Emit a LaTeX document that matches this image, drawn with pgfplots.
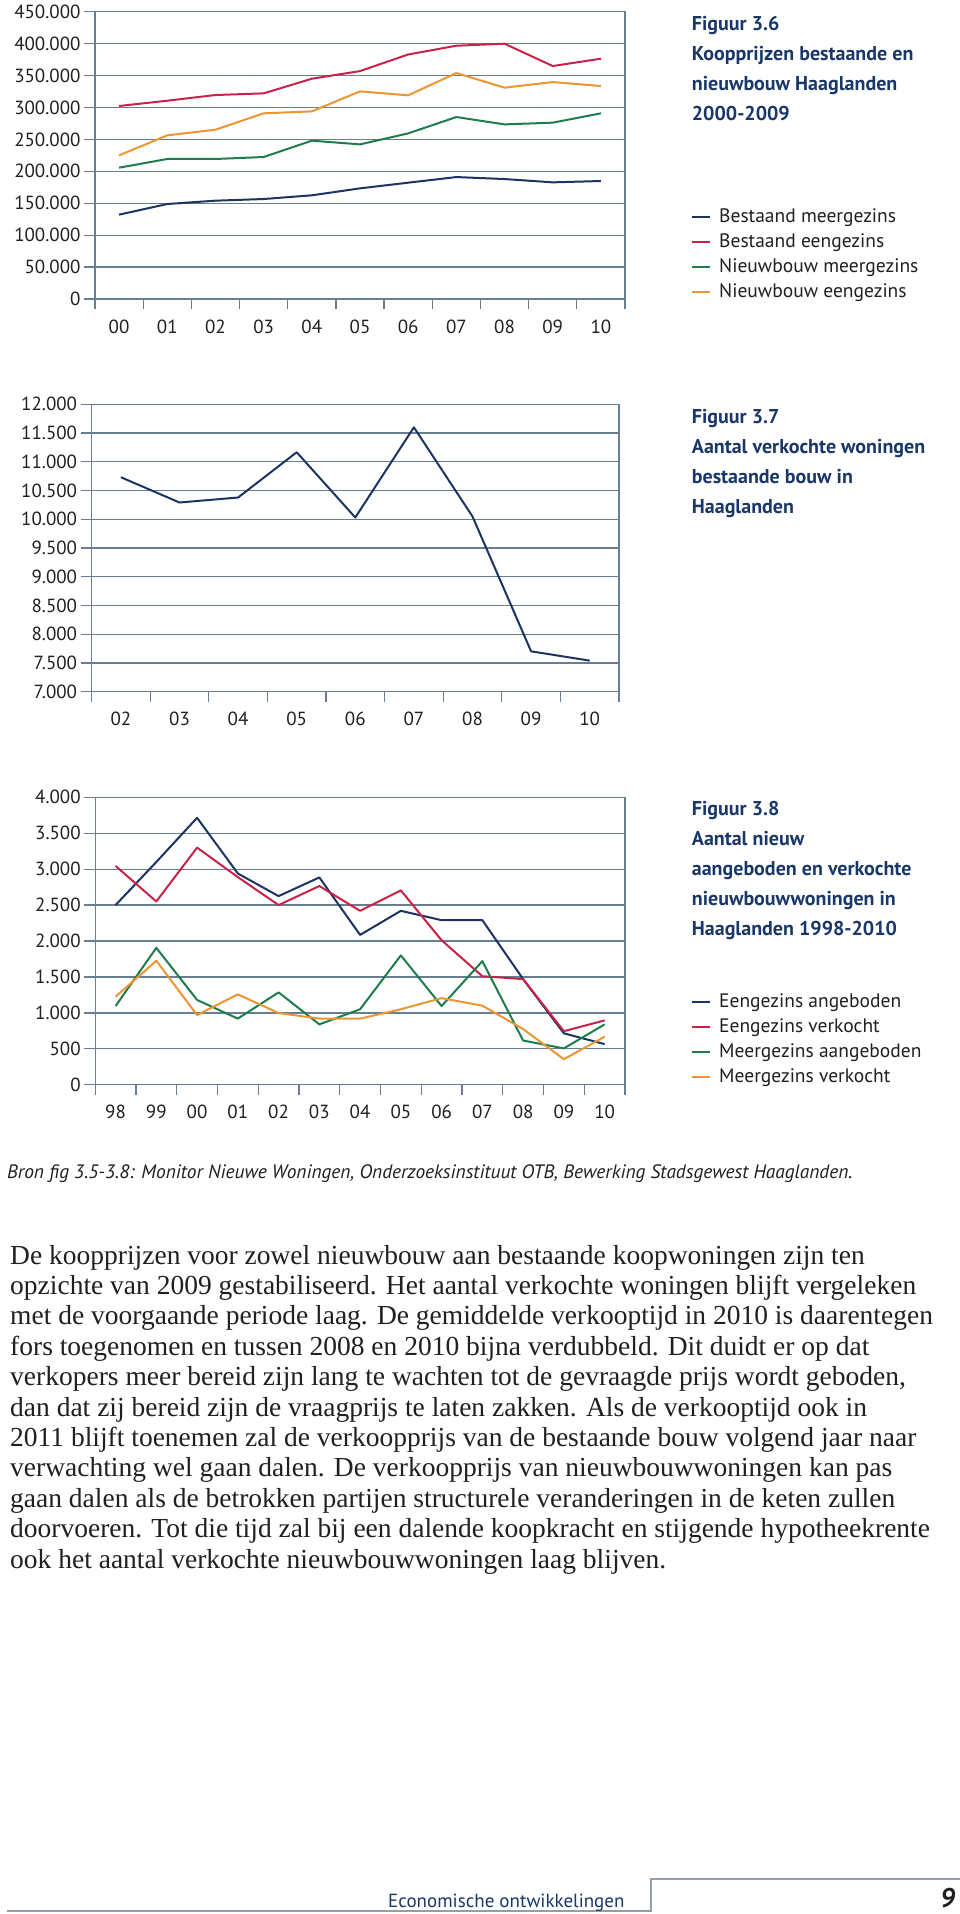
\documentclass[border=0pt]{standalone}
\usepackage{fontspec}
\usepackage{pgfplots}
\pgfplotsset{compat=1.18}
\setmainfont{PT Sans}
\newfontfamily\sansf{PT Sans}
\newfontfamily\serif{Liberation Serif}
\definecolor{navy}{RGB}{27,52,98}
\definecolor{cred}{RGB}{200,35,70}
\definecolor{cgreen}{RGB}{30,125,75}
\definecolor{corange}{RGB}{235,150,50}
\definecolor{gridc}{RGB}{105,125,148}
\definecolor{titleblue}{RGB}{25,55,105}
\definecolor{txt}{RGB}{35,31,32}
\definecolor{footgray}{RGB}{150,158,165}
\pgfplotsset{
  pagechart/.style={
    scale only axis,
    axis line style={gridc, line width=1.3pt},
    ymajorgrids,
    grid style={gridc, line width=1.3pt},
    tick style={gridc, line width=1.3pt},
    tick align=outside,
    tick pos=left,
    major tick length=11pt,
    minor tick length=10pt,
    major x tick style={draw=none},
    ticklabel style={font=\sansf\fontsize{19}{22}\selectfont, text=txt},
    xticklabel style={yshift=-6pt},
    yticklabel style={/pgf/number format/.cd, fixed, precision=0, 1000 sep={.}, assume math mode=true},
    scaled y ticks=false,
    every axis plot/.append style={line width=2pt, line join=round, mark=none},
  }
}
\begin{document}
\begin{tikzpicture}[x=1pt,y=1pt]
\fill[white] (0,0) rectangle (960,-1914);
\path[use as bounding box] (0,0) rectangle (960,-1914);

% ---------- Figure 3.6 ----------
\begin{axis}[pagechart, at={(95pt,-299pt)}, anchor=south west,
  width=530pt, height=287.3pt,
  xmin=-0.5, xmax=10.5, ymin=0, ymax=450000,
  ytick={0,50000,...,450000},
  xtick={0,...,10}, xticklabels={00,01,02,03,04,05,06,07,08,09,10},
  minor xtick={-0.5,0.5,...,10.5}]
\addplot[navy] coordinates {(0,132100)(1,148800)(2,154000)(3,156600)(4,162400)(5,173300)(6,182200)(7,191000)(8,187900)(9,182700)(10,184800)};
\addplot[cred] coordinates {(0,302300)(1,310600)(2,319500)(3,322100)(4,345000)(5,357000)(6,383000)(7,396700)(8,399900)(9,364900)(10,376400)};
\addplot[cgreen] coordinates {(0,205700)(1,219300)(2,219300)(3,222400)(4,248000)(5,242200)(6,259400)(7,285000)(8,273500)(9,276200)(10,290800)};
\addplot[corange] coordinates {(0,225000)(1,256300)(2,265200)(3,290800)(4,293900)(5,325200)(6,319000)(7,353900)(8,331000)(9,339800)(10,333600)};
\end{axis}

\begin{scope}[every node/.style={anchor=base west, inner sep=0pt, text=titleblue, font=\sansf\bfseries\fontsize{20}{24}\selectfont}]
\node at (691.7,-30) {Figuur 3.6};
\node at (691.7,-60.5) {Koopprijzen bestaande en};
\node at (691.7,-90.5) {nieuwbouw Haaglanden};
\node at (691.7,-120.5) {2000-2009};
\end{scope}
\begin{scope}[every node/.style={anchor=base west, inner sep=0pt, text=txt, font=\sansf\fontsize{19.5}{22}\selectfont}]
\draw[navy, line width=2pt] (691.7,-217.3) -- (710,-217.3);
\node at (719,-222.7) {Bestaand meergezins};
\draw[cred, line width=2pt] (691.7,-242.3) -- (710,-242.3);
\node at (719,-247.7) {Bestaand eengezins};
\draw[cgreen, line width=2pt] (691.7,-267.3) -- (710,-267.3);
\node at (719,-272.7) {Nieuwbouw meergezins};
\draw[corange, line width=2pt] (691.7,-292.3) -- (710,-292.3);
\node at (719,-297.7) {Nieuwbouw eengezins};
\end{scope}

% ---------- Figure 3.7 ----------
\begin{axis}[pagechart, at={(91.6pt,-691.6pt)}, anchor=south west,
  width=527.4pt, height=287.3pt,
  xmin=-0.5, xmax=8.5, ymin=7000, ymax=12000,
  ytick={7000,7500,...,12000},
  xtick={0,...,8}, xticklabels={02,03,04,05,06,07,08,09,10},
  minor xtick={-0.5,0.5,...,8.5}]
\addplot[navy] coordinates {(0,10731)(1,10291)(2,10378)(3,11166)(4,10030)(5,11600)(6,10048)(7,7701)(8,7539)};
\end{axis}

\begin{scope}[every node/.style={anchor=base west, inner sep=0pt, text=titleblue, font=\sansf\bfseries\fontsize{20}{24}\selectfont}]
\node at (691.7,-423) {Figuur 3.7};
\node at (691.7,-453) {Aantal verkochte woningen};
\node at (691.7,-483) {bestaande bouw in};
\node at (691.7,-513) {Haaglanden};
\end{scope}

% ---------- Figure 3.8 ----------
\begin{axis}[pagechart, at={(95.2pt,-1084.7pt)}, anchor=south west,
  width=529.8pt, height=287.4pt,
  xmin=-0.5, xmax=12.5, ymin=0, ymax=4000,
  ytick={0,500,...,4000},
  xtick={0,...,12}, xticklabels={98,99,00,01,02,03,04,05,06,07,08,09,10},
  minor xtick={-0.5,0.5,...,12.5}]
\addplot[navy] coordinates {(0,2500)(1,3100)(2,3715)(3,2940)(4,2625)(5,2885)(6,2085)(7,2420)(8,2290)(9,2290)(10,1470)(11,715)(12,565)};
\addplot[cred] coordinates {(0,3045)(1,2550)(2,3300)(3,2890)(4,2500)(5,2765)(6,2420)(7,2705)(8,2010)(9,1510)(10,1470)(11,745)(12,895)};
\addplot[cgreen] coordinates {(0,1095)(1,1905)(2,1180)(3,920)(4,1285)(5,840)(6,1050)(7,1800)(8,1095)(9,1720)(10,615)(11,505)(12,840)};
\addplot[corange] coordinates {(0,1225)(1,1725)(2,970)(3,1258)(4,998)(5,920)(6,920)(7,1050)(8,1205)(9,1100)(10,775)(11,355)(12,668)};
\end{axis}

\begin{scope}[every node/.style={anchor=base west, inner sep=0pt, text=titleblue, font=\sansf\bfseries\fontsize{20}{24}\selectfont}]
\node at (691.7,-815) {Figuur 3.8};
\node at (691.7,-845) {Aantal nieuw};
\node at (691.7,-875) {aangeboden en verkochte};
\node at (691.7,-905) {nieuwbouwwoningen in};
\node at (691.7,-935.7) {Haaglanden 1998-2010};
\end{scope}
\begin{scope}[every node/.style={anchor=base west, inner sep=0pt, text=txt, font=\sansf\fontsize{19.5}{22}\selectfont}]
\draw[navy, line width=2pt] (691.7,-1001.7) -- (710,-1001.7);
\node at (719,-1007.1) {Eengezins angeboden};
\draw[cred, line width=2pt] (691.7,-1026.7) -- (710,-1026.7);
\node at (719,-1032.1) {Eengezins verkocht};
\draw[cgreen, line width=2pt] (691.7,-1051.7) -- (710,-1051.7);
\node at (719,-1057.1) {Meergezins aangeboden};
\draw[corange, line width=2pt] (691.7,-1076.7) -- (710,-1076.7);
\node at (719,-1082.1) {Meergezins verkocht};
\end{scope}

% ---------- Source ----------
\node[anchor=base west, inner sep=0pt, text=txt, font=\sansf\itshape\fontsize{19.4}{22}\selectfont] at (7,-1178)
 {Bron fig 3.5-3.8: Monitor Nieuwe Woningen, Onderzoeksinstituut OTB, Bewerking Stadsgewest Haaglanden.};

% ---------- Body text ----------
\begin{scope}[every node/.style={anchor=base west, inner sep=0pt, text=txt, font=\serif\fontsize{27.5}{30}\selectfont}]
\node at (10,-1264) {De koopprijzen voor zowel nieuwbouw aan bestaande koopwoningen zijn ten};
\node at (10,-1294.4) {opzichte van 2009 gestabiliseerd. Het aantal verkochte woningen blijft vergeleken};
\node at (10,-1324.8) {met de voorgaande periode laag. De gemiddelde verkooptijd in 2010 is daarentegen};
\node at (10,-1355.2) {fors toegenomen en tussen 2008 en 2010 bijna verdubbeld. Dit duidt er op dat};
\node at (10,-1385.6) {verkopers meer bereid zijn lang te wachten tot de gevraagde prijs wordt geboden,};
\node at (10,-1416) {dan dat zij bereid zijn de vraagprijs te laten zakken. Als de verkooptijd ook in};
\node at (10,-1446.4) {2011 blijft toenemen zal de verkoopprijs van de bestaande bouw volgend jaar naar};
\node at (10,-1476.8) {verwachting wel gaan dalen. De verkoopprijs van nieuwbouwwoningen kan pas};
\node at (10,-1507.2) {gaan dalen als de betrokken partijen structurele veranderingen in de keten zullen};
\node at (10,-1537.6) {doorvoeren. Tot die tijd zal bij een dalende koopkracht en stijgende hypotheekrente};
\node at (10,-1568) {ook het aantal verkochte nieuwbouwwoningen laag blijven.};
\end{scope}

% ---------- Footer ----------
\draw[footgray, line width=1.5pt] (7,-1911) -- (651,-1911) -- (651,-1879) -- (960,-1879);
\node[anchor=base west, inner sep=0pt, text=titleblue, font=\sansf\fontsize{19}{22}\selectfont] at (388,-1907) {Economische ontwikkelingen};
\node[anchor=base west, inner sep=0pt, text=txt, font=\sansf\bfseries\itshape\fontsize{27}{30}\selectfont] at (940,-1907) {9};
\end{tikzpicture}
\end{document}
